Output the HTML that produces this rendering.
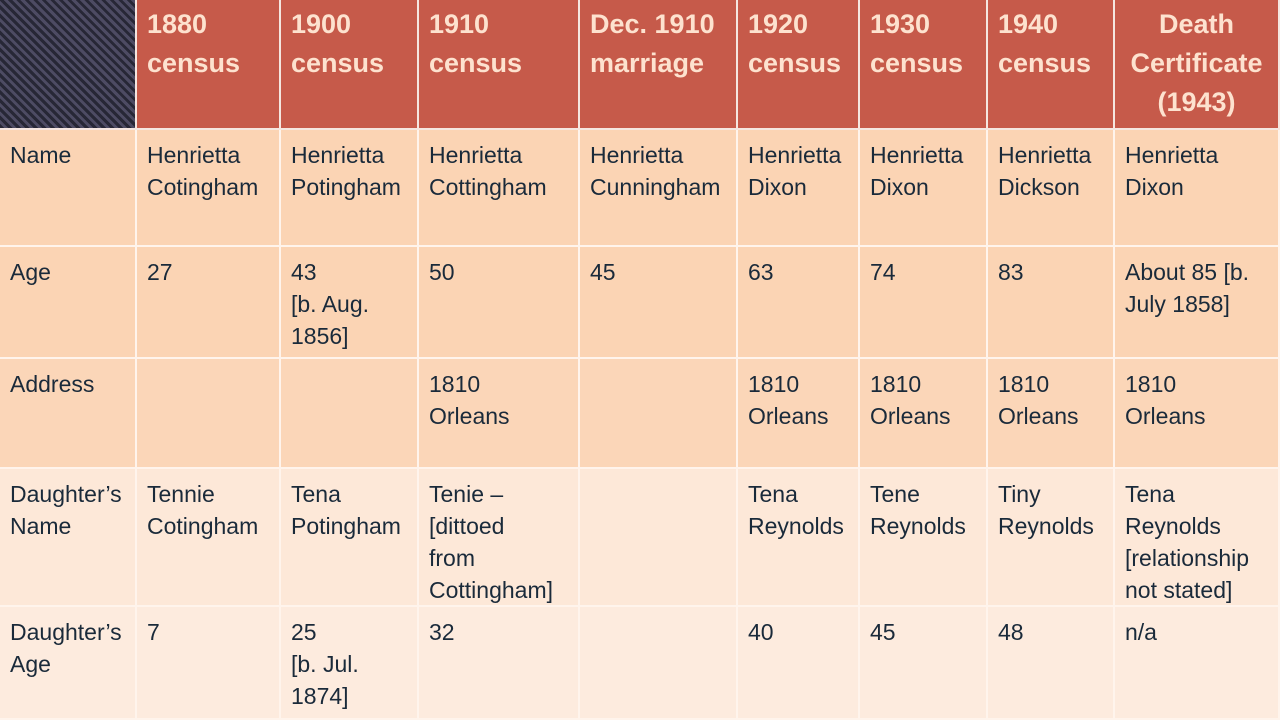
<!DOCTYPE html>
<html><head><meta charset="utf-8">
<style>
html,body{margin:0;padding:0;width:1280px;height:720px;overflow:hidden;background:#fde9da}
#tbl{display:grid;width:1280px;height:720px;
grid-template-columns:137px 144px 138px 161px 158px 122px 128px 127px 165px;
grid-template-rows:130px 117px 112px 110px 138px 113px;
font-family:"Liberation Sans",sans-serif;color:#1a2a3a;box-sizing:border-box;border-bottom:2px solid #333}
.c{box-sizing:border-box;border-right:2px solid #fff4ec;border-bottom:2px solid #fff4ec;padding:9px 0 0 10px;font-size:23px;line-height:32px}
.h{background:#c65a4a;color:#fde2cf;font-weight:bold;font-size:27px;line-height:39px;padding-top:5px;border-color:#f5e6e0}
.corner{background:repeating-linear-gradient(45deg,#272736 0 3px,#4d4b63 3px 6px)}
.a{background:#fbd4b4}
.b{background:#fbd6b8}
.d{background:#fde8d8}
.e{background:#fdebde}
</style></head><body>
<div id="tbl">
<div class="c h corner"></div>
<div class="c h">1880<br>census</div>
<div class="c h">1900<br>census</div>
<div class="c h">1910<br>census</div>
<div class="c h">Dec. 1910<br>marriage</div>
<div class="c h">1920<br>census</div>
<div class="c h">1930<br>census</div>
<div class="c h">1940<br>census</div>
<div class="c h" style="text-align:center;padding-left:0">Death<br>Certificate<br>(1943)</div>

<div class="c a">Name</div>
<div class="c a">Henrietta<br>Cotingham</div>
<div class="c a">Henrietta<br>Potingham</div>
<div class="c a">Henrietta<br>Cottingham</div>
<div class="c a">Henrietta<br>Cunningham</div>
<div class="c a">Henrietta<br>Dixon</div>
<div class="c a">Henrietta<br>Dixon</div>
<div class="c a">Henrietta<br>Dickson</div>
<div class="c a">Henrietta<br>Dixon</div>

<div class="c a">Age</div>
<div class="c a">27</div>
<div class="c a">43<br>[b. Aug.<br>1856]</div>
<div class="c a">50</div>
<div class="c a">45</div>
<div class="c a">63</div>
<div class="c a">74</div>
<div class="c a">83</div>
<div class="c a">About 85 [b.<br>July 1858]</div>

<div class="c b">Address</div>
<div class="c b"></div>
<div class="c b"></div>
<div class="c b">1810<br>Orleans</div>
<div class="c b"></div>
<div class="c b">1810<br>Orleans</div>
<div class="c b">1810<br>Orleans</div>
<div class="c b">1810<br>Orleans</div>
<div class="c b">1810<br>Orleans</div>

<div class="c d">Daughter’s<br>Name</div>
<div class="c d">Tennie<br>Cotingham</div>
<div class="c d">Tena<br>Potingham</div>
<div class="c d">Tenie –<br>[dittoed<br>from<br>Cottingham]</div>
<div class="c d"></div>
<div class="c d">Tena<br>Reynolds</div>
<div class="c d">Tene<br>Reynolds</div>
<div class="c d">Tiny<br>Reynolds</div>
<div class="c d">Tena<br>Reynolds<br>[relationship<br>not stated]</div>

<div class="c e">Daughter’s<br>Age</div>
<div class="c e">7</div>
<div class="c e">25<br>[b. Jul.<br>1874]</div>
<div class="c e">32</div>
<div class="c e"></div>
<div class="c e">40</div>
<div class="c e">45</div>
<div class="c e">48</div>
<div class="c e">n/a</div>
</div>
</body></html>
